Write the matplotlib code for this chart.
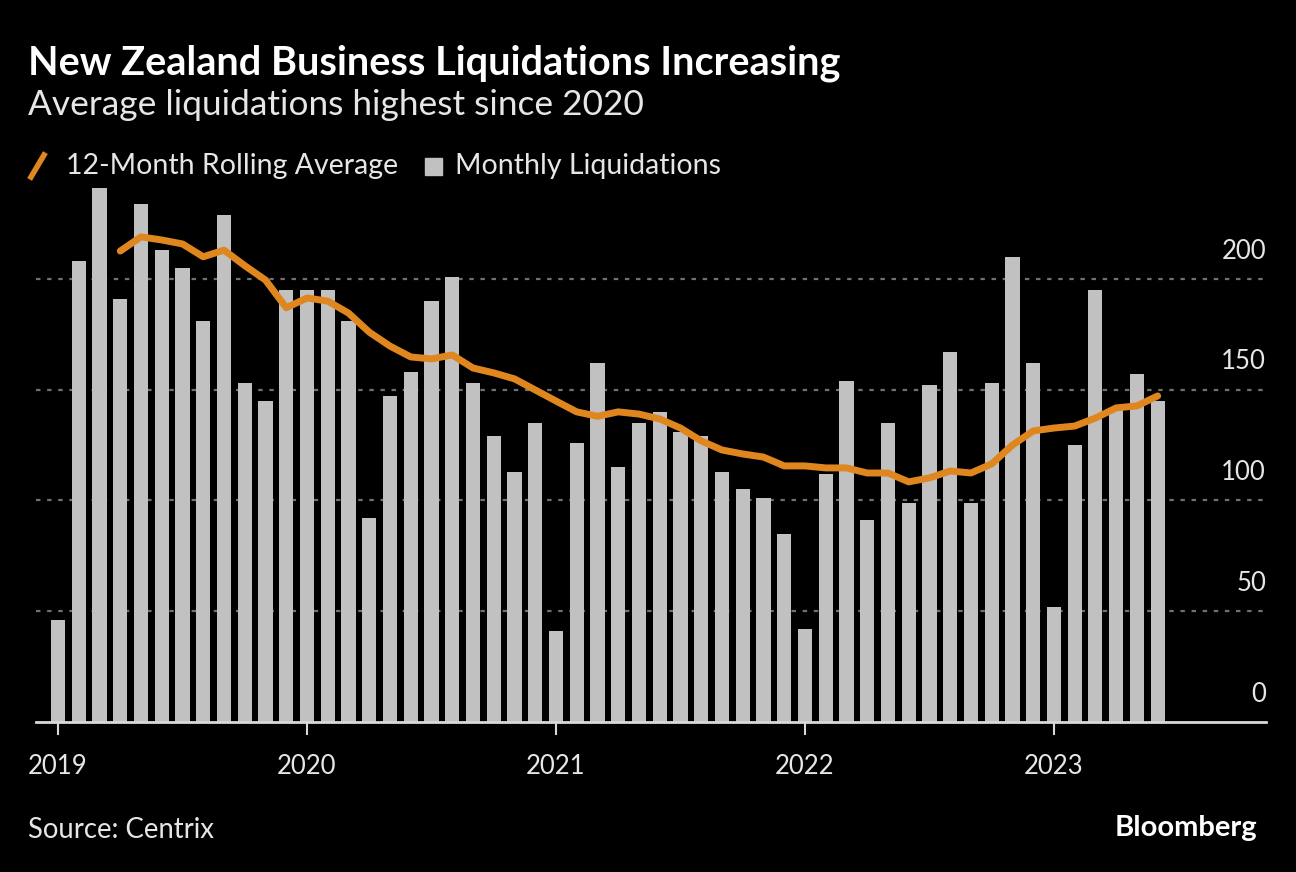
import matplotlib.pyplot as plt
import numpy as np
from matplotlib.lines import Line2D
from matplotlib.patches import Rectangle

plt.rcParams['font.family'] = ['Lato', 'DejaVu Sans']

# monthly data Jan 2019 - Jun 2023
monthly = [46, 208, 241, 191, 234, 213, 205, 181, 229, 153, 145, 195,
           195, 195, 181, 92, 147, 158, 190, 201, 153, 129, 113, 135,
           41, 126, 162, 115, 135, 140, 131, 129, 113, 105, 101, 85,
           42, 112, 154, 91, 135, 99, 152, 167, 99, 153, 210, 162,
           52, 125, 195, 141, 157, 145]
# 12-month rolling average, starts Apr 2019
rolling = [212.6, 219, 217.6, 215.8, 210, 213, 206, 199.5, 187,
           191.4, 190, 184.6, 176, 169.7, 164.8, 163.9, 165.7, 159.8, 157.6, 154.9, 149.9,
           144.9, 140, 138, 140, 139, 136.8, 132.7, 126.9, 122.8, 121, 119.6, 115.6,
           115.6, 114.7, 114.7, 112.4, 112.4, 108.4, 110.2, 113.3, 112.4, 116.5, 125, 131.4,
           132.7, 133.6, 137.2, 141.8, 142.7, 147.2]
years = ['2019', '2020', '2021', '2022', '2023']
yticks = [0, 50, 100, 150, 200]

months = np.arange(len(monthly))
roll_x = months[len(monthly) - len(rolling):]

bg = '#000000'
txt = '#e6e6e6'
bar_c = '#c1c1c1'
line_c = '#e0861f'

fig = plt.figure(figsize=(12.96, 8.72), dpi=100, facecolor=bg)
ax = fig.add_axes([36/1296, (872-722)/872, (1266-36)/1296, 0.6224])
ax.set_facecolor(bg)

for v in yticks[1:]:
    ax.axhline(v, color='#707070', lw=1.6, ls=(0, (2, 3)), zorder=0)

ax.bar(months, monthly, width=0.68, color=bar_c, zorder=2)
ax.plot(roll_x, rolling, color=line_c, lw=5, solid_capstyle='round',
        solid_joinstyle='round', zorder=3)

ax.set_xlim(-1.06, 58.22)
ax.set_ylim(0, 245)

for s in ['top', 'right', 'left']:
    ax.spines[s].set_visible(False)
ax.spines['bottom'].set_color('#d9d9d9')
ax.spines['bottom'].set_linewidth(2)

ax.set_xticks(np.arange(0, len(monthly), 12))
ax.set_xticklabels(years)
ax.tick_params(axis='x', colors='#d9d9d9', length=9, width=1.5, labelsize=18.5,
               labelcolor=txt, pad=14)
ax.set_yticks([])
for v in yticks:
    ax.annotate(str(v), xy=(1.0, v), xycoords=('axes fraction', 'data'),
                xytext=(0, 11), textcoords='offset points',
                ha='right', va='bottom', fontsize=18.5, color=txt)

fig.text(28/1296, 1 - 63/872, 'New Zealand Business Liquidations Increasing',
         fontsize=28.5, fontweight='bold', color='white', va='center')
fig.text(28/1296, 1 - 105/872, 'Average liquidations highest since 2020',
         fontsize=25.4, color=txt, va='center')

# legend
ly = 1 - 166/872
fig.add_artist(Line2D([31/1296, 44/1296], [ly - 11/872, ly + 11/872], color=line_c,
                      lw=4, transform=fig.transFigure))
fig.text(66/1296, ly, '12-Month Rolling Average', fontsize=20.5, color=txt, va='center')
fig.add_artist(Rectangle((425/1296, ly - 9/872), 17/1296, 17/872, color=bar_c,
                         transform=fig.transFigure))
fig.text(455/1296, ly, 'Monthly Liquidations', fontsize=20.5, color=txt, va='center')

fig.text(28/1296, 1 - 830/872, 'Source: Centrix', fontsize=19.8, color=txt, va='center')
fig.text(1257/1296, 1 - 828/872, 'Bloomberg', fontsize=21, fontweight='bold',
         color='white', va='center', ha='right')

fig.savefig('out.png', dpi=100, facecolor=bg)
